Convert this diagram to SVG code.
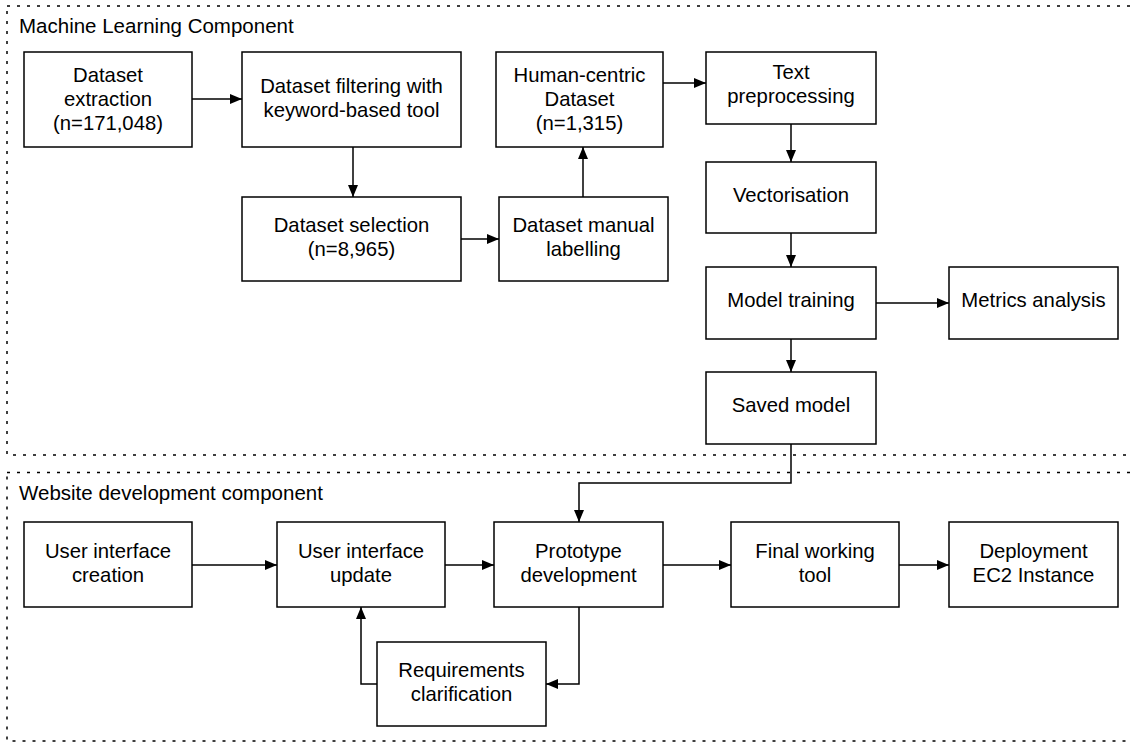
<svg xmlns="http://www.w3.org/2000/svg" width="1130" height="742" viewBox="0 0 1130 742">
<defs>
<style>
.box{fill:#fff;stroke:#000;stroke-width:1.5}
.frame{fill:none;stroke:#000;stroke-width:1.5;stroke-dasharray:3 7}
.t{font-family:"Liberation Sans",Arial,sans-serif;font-size:20.3px;fill:#000;text-anchor:middle}
.h{font-family:"Liberation Sans",Arial,sans-serif;font-size:20.5px;fill:#000}
.c{fill:none;stroke:#000;stroke-width:1.5}
</style>
<marker id="ah" viewBox="0 0 12 10" refX="12" refY="5" markerWidth="12" markerHeight="10" markerUnits="userSpaceOnUse" orient="auto">
<path d="M0,0 L12,5 L0,10 z" fill="#000"/>
</marker>
</defs>
<rect width="1130" height="742" fill="#fff"/>
<g id="ml-component">
<rect class="frame" x="7" y="6" width="1140" height="449"/>
<text class="h" x="19" y="33">Machine Learning Component</text>
</g>
<g id="web-component">
<rect class="frame" x="7" y="472.5" width="1140" height="268.5"/>
<text class="h" x="19" y="500">Website development component</text>
</g>
<g id="connectors">
<path class="c" d="M192,99 H242" marker-end="url(#ah)"/>
<path class="c" d="M353,147 V197" marker-end="url(#ah)"/>
<path class="c" d="M461,239 H499" marker-end="url(#ah)"/>
<path class="c" d="M583,197 V147" marker-end="url(#ah)"/>
<path class="c" d="M663,83 H706" marker-end="url(#ah)"/>
<path class="c" d="M791,124 V162" marker-end="url(#ah)"/>
<path class="c" d="M791,233 V267" marker-end="url(#ah)"/>
<path class="c" d="M876,303 H949" marker-end="url(#ah)"/>
<path class="c" d="M791,339 V372" marker-end="url(#ah)"/>
<path class="c" d="M791,444 V483 H579 V522" marker-end="url(#ah)"/>
<path class="c" d="M192,565 H277" marker-end="url(#ah)"/>
<path class="c" d="M445,565 H494" marker-end="url(#ah)"/>
<path class="c" d="M663,565 H731" marker-end="url(#ah)"/>
<path class="c" d="M899,565 H949" marker-end="url(#ah)"/>
<path class="c" d="M579,607 V684 H546" marker-end="url(#ah)"/>
<path class="c" d="M377,684 H361 V607" marker-end="url(#ah)"/>
</g>
<g id="dataset-extraction">
<rect class="box" x="24" y="52" width="168" height="95"/>
<text class="t" x="108" y="81.5">Dataset</text>
<text class="t" x="108" y="105.5">extraction</text>
<text class="t" x="108" y="129.5">(n=171,048)</text>
</g>
<g id="dataset-filtering">
<rect class="box" x="242" y="52" width="219" height="95"/>
<text class="t" x="351.5" y="93">Dataset filtering with</text>
<text class="t" x="351.5" y="117">keyword-based tool</text>
</g>
<g id="dataset-selection">
<rect class="box" x="242" y="197" width="219" height="84"/>
<text class="t" x="351.5" y="232">Dataset selection</text>
<text class="t" x="351.5" y="256">(n=8,965)</text>
</g>
<g id="dataset-manual-labelling">
<rect class="box" x="499" y="197" width="169" height="84"/>
<text class="t" x="583.5" y="232">Dataset manual</text>
<text class="t" x="583.5" y="256">labelling</text>
</g>
<g id="human-centric-dataset">
<rect class="box" x="496" y="52" width="167" height="95"/>
<text class="t" x="579.5" y="81.5">Human-centric</text>
<text class="t" x="579.5" y="105.5">Dataset</text>
<text class="t" x="579.5" y="129.5">(n=1,315)</text>
</g>
<g id="text-preprocessing">
<rect class="box" x="706" y="52" width="170" height="72"/>
<text class="t" x="791" y="79">Text</text>
<text class="t" x="791" y="103">preprocessing</text>
</g>
<g id="vectorisation">
<rect class="box" x="706" y="162" width="170" height="71"/>
<text class="t" x="791" y="201.5">Vectorisation</text>
</g>
<g id="model-training">
<rect class="box" x="706" y="267" width="170" height="72"/>
<text class="t" x="791" y="307">Model training</text>
</g>
<g id="metrics-analysis">
<rect class="box" x="949" y="267" width="169" height="72"/>
<text class="t" x="1033.5" y="307">Metrics analysis</text>
</g>
<g id="saved-model">
<rect class="box" x="706" y="372" width="170" height="72"/>
<text class="t" x="791" y="412">Saved model</text>
</g>
<g id="ui-creation">
<rect class="box" x="24" y="522" width="168" height="85"/>
<text class="t" x="108" y="558">User interface</text>
<text class="t" x="108" y="582">creation</text>
</g>
<g id="ui-update">
<rect class="box" x="277" y="522" width="168" height="85"/>
<text class="t" x="361" y="558">User interface</text>
<text class="t" x="361" y="582">update</text>
</g>
<g id="prototype-development">
<rect class="box" x="494" y="522" width="169" height="85"/>
<text class="t" x="578.5" y="558">Prototype</text>
<text class="t" x="578.5" y="582">development</text>
</g>
<g id="final-working-tool">
<rect class="box" x="731" y="522" width="168" height="85"/>
<text class="t" x="815" y="558">Final working</text>
<text class="t" x="815" y="582">tool</text>
</g>
<g id="deployment">
<rect class="box" x="949" y="522" width="169" height="85"/>
<text class="t" x="1033.5" y="558">Deployment</text>
<text class="t" x="1033.5" y="582">EC2 Instance</text>
</g>
<g id="requirements-clarification">
<rect class="box" x="377" y="642" width="169" height="84"/>
<text class="t" x="461.5" y="677">Requirements</text>
<text class="t" x="461.5" y="701">clarification</text>
</g>
</svg>
